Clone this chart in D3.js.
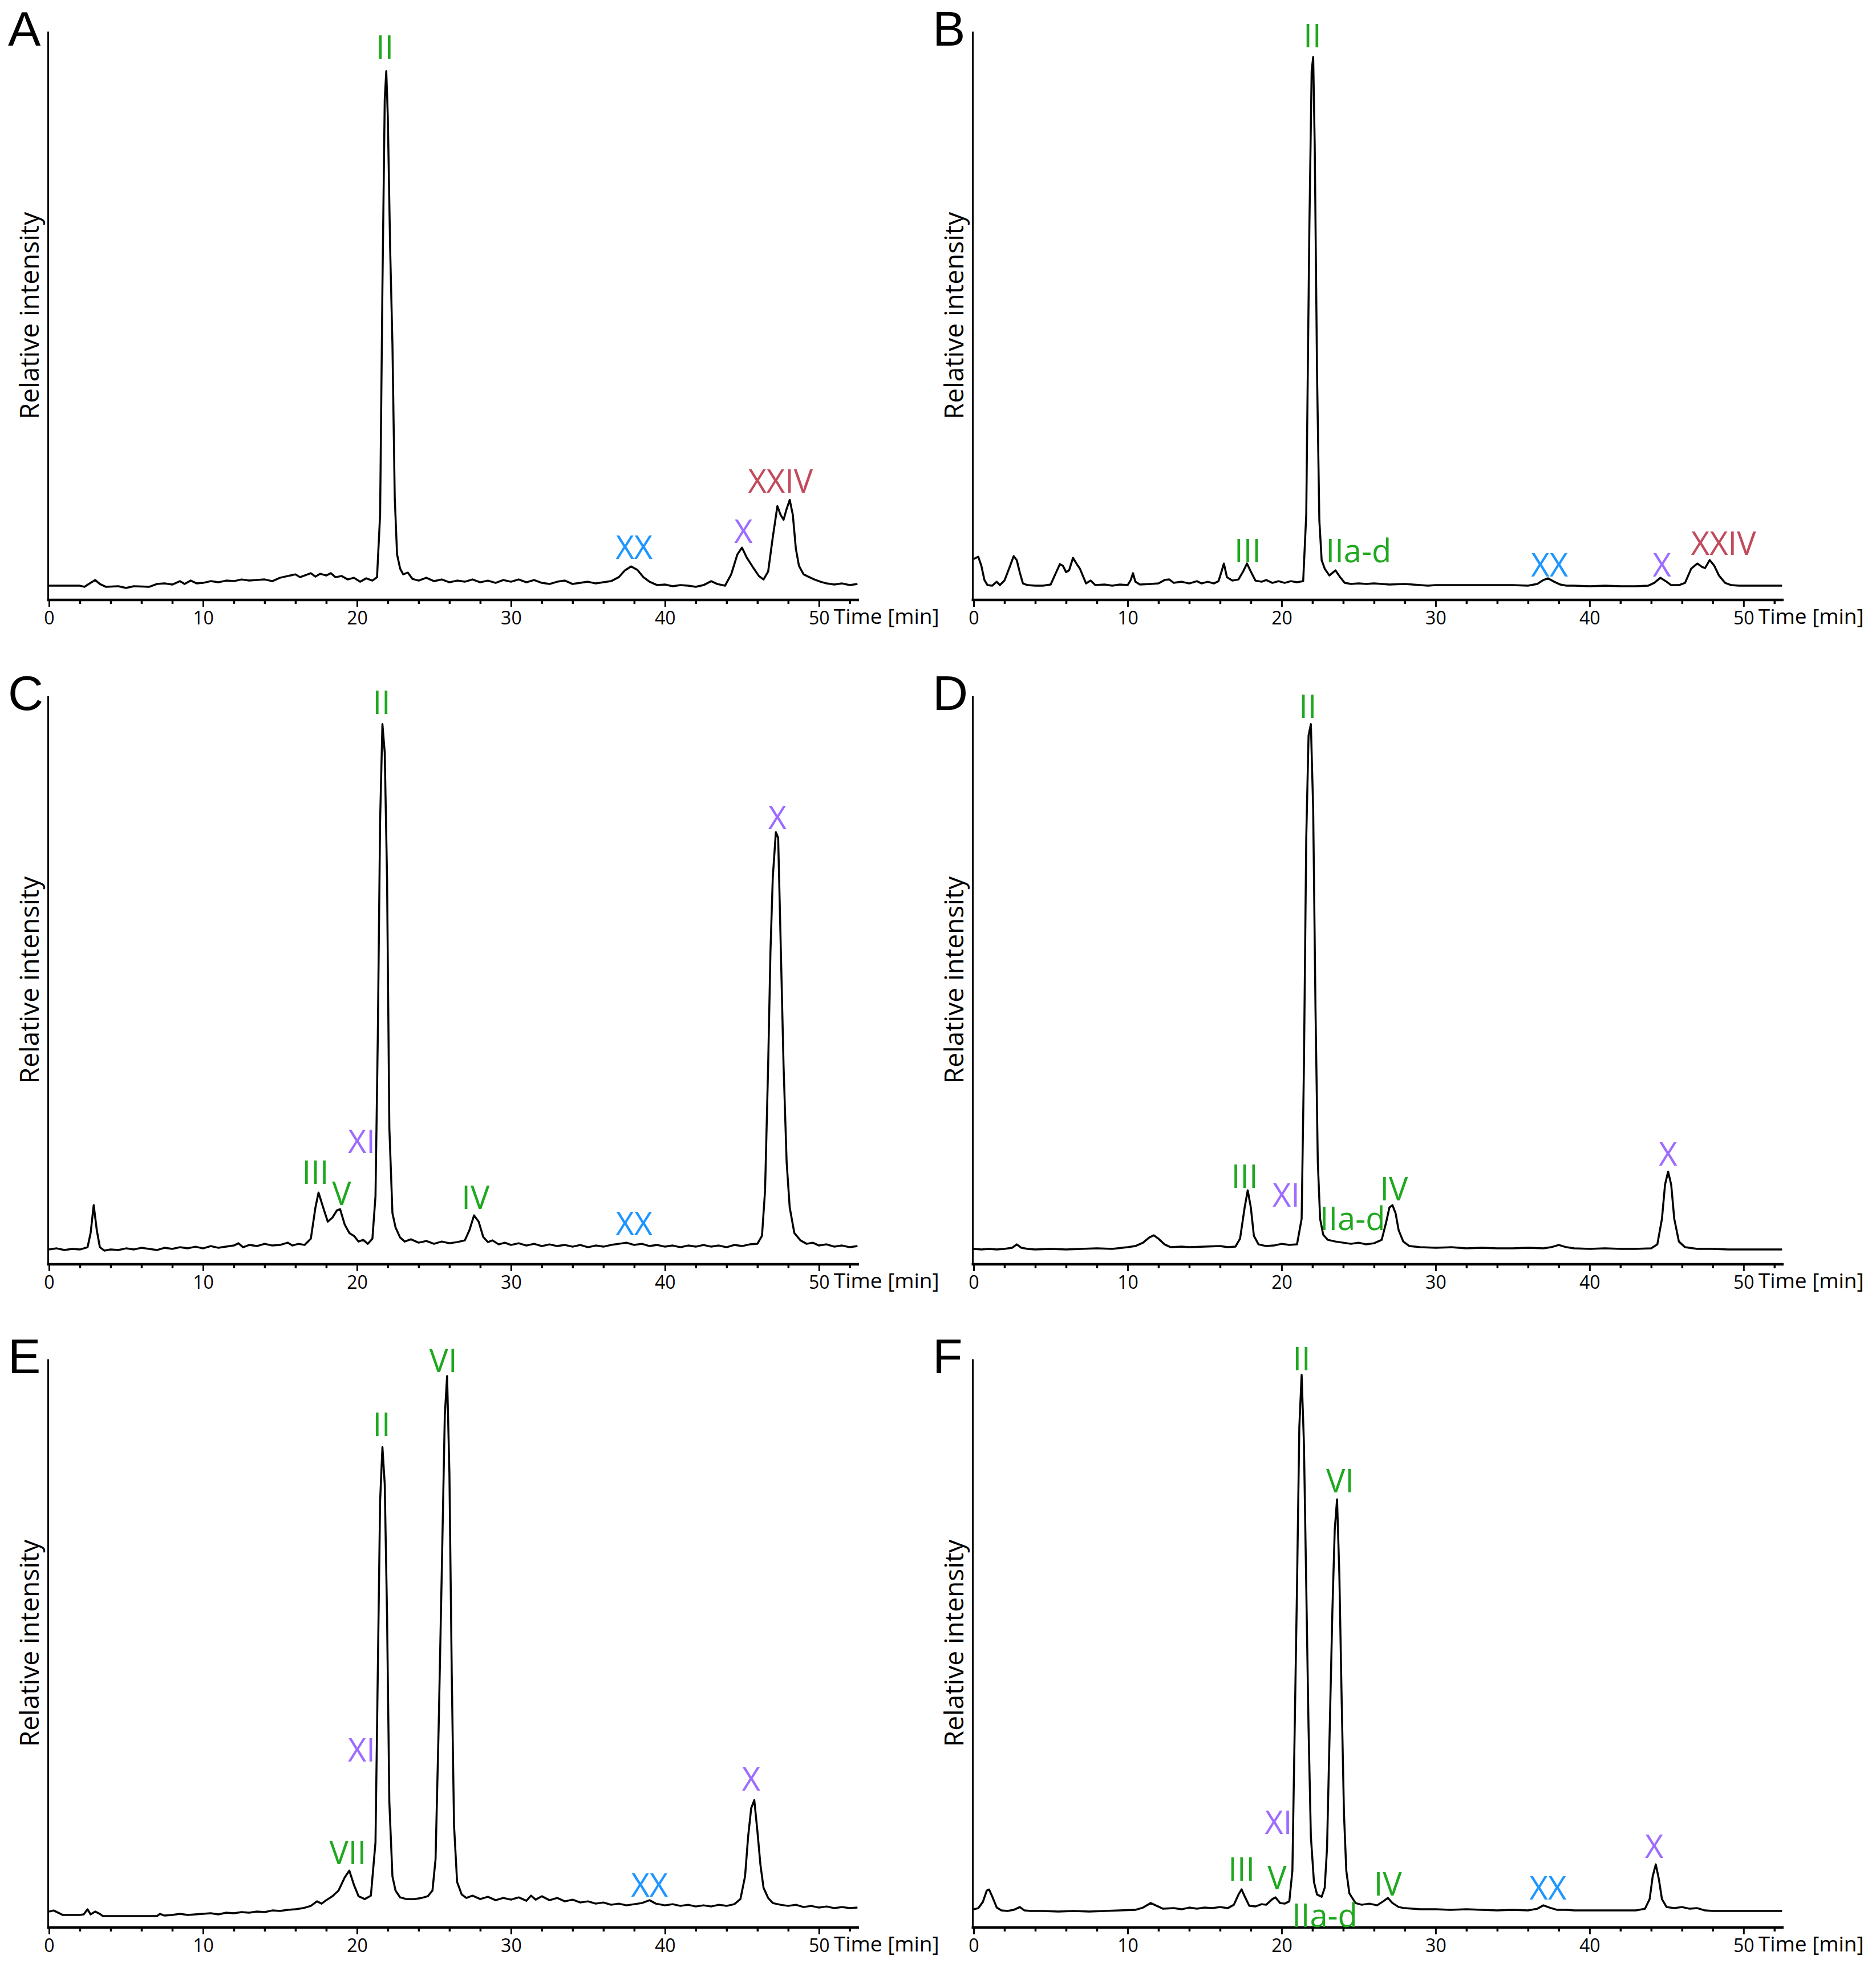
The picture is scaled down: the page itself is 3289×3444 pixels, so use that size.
<!DOCTYPE html>
<html><head><meta charset="utf-8">
<script src="https://cdn.jsdelivr.net/npm/d3@7"></script>
<style>
body{margin:0;background:#fff}
svg{display:block;font-family:"Open Sans",sans-serif}
</style></head>
<body>
<svg id="chart" width="3289" height="3444"></svg>
<script>
// ---------- data ----------
const panelIds = ["A","B","C","D","E","F"];
const majorTicks = [0,10,20,30,40,50];
const minorTicks = [2,4,6,8,12,14,16,18,22,24,26,28,32,34,36,38,42,44,46,48,52];
const xLabel = "Time [min]";
const yLabel = "Relative intensity";
const timeDomain = [0, 52.6];
const intensityDomain = [0, 100];

// chromatogram traces: [time (min), relative intensity]
const traceA = [[0,2.5],[2.0,2.5],[2.3,2.3],[2.7,3.0],[3.0,3.5],[3.3,2.8],[3.7,2.3],[4.5,2.4],[5.0,2.1],[5.5,2.4],[6.5,2.3],[7.0,2.8],[7.5,2.9],[8.0,2.7],[8.5,3.3],[8.8,2.8],[9.2,3.4],[9.6,2.9],[10.0,3.0],[10.5,3.3],[11.0,3.1],[11.5,3.4],[12.0,3.3],[12.5,3.6],[13.0,3.4],[13.5,3.5],[14.0,3.6],[14.5,3.3],[15.0,3.9],[15.5,4.2],[16.0,4.5],[16.3,4.0],[16.7,4.4],[17.0,4.7],[17.3,4.1],[17.6,4.6],[18.0,4.3],[18.3,4.7],[18.6,4.0],[19.0,4.2],[19.4,3.6],[19.8,3.9],[20.2,3.2],[20.6,3.8],[21.0,3.4],[21.3,4.0],[21.5,15],[21.65,55],[21.8,88],[21.9,93],[22.0,85],[22.15,62],[22.3,45],[22.45,18],[22.6,8],[22.8,5.5],[23.0,4.5],[23.3,4.8],[23.6,3.7],[24.0,3.4],[24.5,3.9],[25,3.3],[25.5,3.6],[26,3.1],[26.5,3.4],[27,3.2],[27.5,3.6],[28,3.1],[28.5,3.4],[29,3.0],[29.5,3.5],[30,3.2],[30.5,3.6],[31,3.1],[31.5,3.5],[32,3.0],[32.5,2.8],[33,3.2],[33.5,3.4],[34,2.8],[34.5,3.0],[35,3.2],[35.5,2.9],[36,3.1],[36.5,3.3],[37.0,4.0],[37.4,5.2],[37.8,5.9],[38.2,5.3],[38.6,4.0],[39.0,3.2],[39.5,2.6],[40,2.7],[40.5,2.4],[41,2.6],[41.5,2.5],[42,2.3],[42.5,2.6],[43.0,3.3],[43.4,2.8],[43.9,2.5],[44.3,4.5],[44.7,8.0],[45.0,9.2],[45.3,7.5],[45.7,5.8],[46.1,4.2],[46.4,3.6],[46.7,5.0],[47.0,11],[47.3,16.5],[47.5,15],[47.7,14.1],[47.9,16],[48.1,17.6],[48.3,15],[48.5,9],[48.7,6],[49.0,4.5],[49.3,4.1],[49.7,3.6],[50.1,3.2],[50.5,2.9],[51.0,2.7],[51.5,2.9],[52.0,2.6],[52.5,2.8]];

const traceB = [[0.0,7.2],[0.3,7.6],[0.5,6.0],[0.7,3.5],[0.9,2.6],[1.2,2.5],[1.5,3.2],[1.7,2.6],[2.0,3.4],[2.3,5.5],[2.6,7.7],[2.8,7.0],[3.0,4.8],[3.2,2.9],[3.5,2.6],[4.0,2.5],[4.5,2.5],[5.0,2.7],[5.3,4.5],[5.6,6.3],[5.8,6.0],[6.0,4.9],[6.2,5.2],[6.45,7.4],[6.7,6.3],[6.9,5.5],[7.1,4.2],[7.3,2.9],[7.6,3.4],[7.9,2.6],[8.5,2.7],[9.0,2.5],[9.5,2.7],[10.0,2.6],[10.2,3.5],[10.35,4.7],[10.5,3.2],[10.8,2.7],[11.5,2.8],[12.0,2.9],[12.4,3.5],[12.7,3.6],[13.0,3.0],[13.5,3.2],[14.0,2.9],[14.5,3.3],[14.8,2.9],[15.2,3.2],[15.6,2.9],[15.9,3.3],[16.1,5.0],[16.25,6.4],[16.45,4.0],[16.8,3.4],[17.2,3.6],[17.5,5.0],[17.75,6.4],[18.0,5.0],[18.3,3.4],[18.7,3.2],[19.0,3.5],[19.4,3.0],[19.8,3.3],[20.2,3.0],[20.6,3.3],[21.0,3.1],[21.4,3.3],[21.6,15],[21.8,65],[21.95,93],[22.05,95.5],[22.15,80],[22.3,40],[22.45,14],[22.6,7],[22.8,5.5],[23.1,4.3],[23.5,5.2],[23.8,4.0],[24.1,3.0],[24.5,2.8],[25.0,2.9],[25.5,2.8],[26,2.9],[27,2.7],[28,2.8],[29,2.6],[29.5,2.5],[30,2.6],[31,2.6],[32,2.6],[33,2.6],[34,2.6],[35,2.6],[36,2.5],[36.6,2.8],[37.0,3.5],[37.3,3.8],[37.7,3.2],[38.1,2.7],[38.5,2.5],[39,2.5],[40,2.4],[41,2.5],[42,2.4],[43,2.4],[43.8,2.5],[44.2,3.0],[44.6,3.9],[45.0,3.2],[45.3,2.6],[45.8,2.6],[46.2,3.0],[46.6,5.5],[47.0,6.4],[47.3,5.8],[47.5,5.6],[47.8,7.0],[48.1,6.0],[48.4,4.3],[48.8,3.0],[49.2,2.6],[49.7,2.5],[50.5,2.5],[51.5,2.5],[52.5,2.5]];

const traceC = [[0,2.6],[0.5,2.8],[1.0,2.5],[1.5,2.7],[2.0,2.6],[2.5,3.0],[2.7,5.5],[2.9,10.4],[3.1,6.0],[3.3,3.0],[3.6,2.4],[4.0,2.6],[4.5,2.5],[5.0,2.8],[5.5,2.6],[6.0,2.9],[6.5,2.7],[7.0,2.5],[7.5,2.9],[8.0,2.7],[8.5,3.0],[9.0,2.8],[9.5,3.1],[10,2.8],[10.5,3.2],[11,2.9],[11.5,3.1],[12,3.3],[12.3,3.7],[12.6,3.0],[13,3.4],[13.5,3.2],[14,3.6],[14.5,3.3],[15,3.4],[15.5,3.8],[15.8,3.3],[16.2,3.6],[16.6,3.4],[17.0,4.5],[17.3,10],[17.5,12.6],[17.8,10],[18.1,7.5],[18.4,8.2],[18.7,9.5],[18.9,9.7],[19.2,7.0],[19.5,5.5],[19.8,5.0],[20.1,4.0],[20.4,4.3],[20.7,3.6],[21.0,4.5],[21.2,12],[21.35,40],[21.5,78],[21.65,95],[21.8,90],[21.95,68],[22.1,24],[22.3,9],[22.5,6.5],[22.8,4.7],[23.1,4.0],[23.5,4.4],[24,3.8],[24.5,4.1],[25,3.6],[25.5,4.0],[26,3.7],[26.5,3.9],[27.0,4.2],[27.3,6.0],[27.6,8.6],[27.9,7.5],[28.2,4.8],[28.5,3.9],[28.8,4.2],[29.2,3.5],[29.6,3.8],[30,3.4],[30.5,3.7],[31,3.3],[31.5,3.6],[32,3.2],[32.5,3.5],[33,3.2],[33.5,3.4],[34,3.1],[34.5,3.4],[35,3.0],[35.5,3.3],[36,3.1],[36.5,3.4],[37,3.6],[37.5,3.8],[38,3.4],[38.5,3.6],[39,3.2],[39.5,3.4],[40,3.1],[40.5,3.3],[41,3.0],[41.5,3.3],[42,3.1],[42.5,3.4],[43,3.1],[43.5,3.3],[44,3.0],[44.5,3.4],[45,3.2],[45.5,3.5],[46.0,3.6],[46.3,5.0],[46.5,13],[46.7,35],[46.85,55],[47.0,68],[47.2,76],[47.35,75],[47.5,58],[47.7,35],[47.9,18],[48.1,10],[48.4,5.5],[48.8,4.2],[49.2,3.6],[49.6,3.8],[50,3.3],[50.5,3.5],[51,3.1],[51.5,3.3],[52,3.0],[52.5,3.2]];

const traceD = [[0,2.7],[0.5,2.6],[1,2.7],[1.5,2.6],[2,2.7],[2.5,2.9],[2.8,3.5],[3.1,2.9],[3.5,2.7],[4,2.6],[5,2.7],[6,2.6],[7,2.7],[8,2.8],[9,2.7],[10,3.0],[10.5,3.2],[11,3.8],[11.4,4.7],[11.7,5.1],[12.0,4.5],[12.4,3.5],[12.8,3.0],[13.5,3.1],[14,3.0],[15,3.1],[16,3.2],[16.5,3.0],[17.0,3.1],[17.3,4.5],[17.6,10],[17.8,13.0],[18.0,10],[18.2,5],[18.5,3.5],[19,3.2],[19.5,3.3],[20,3.6],[20.5,3.4],[21.0,3.5],[21.3,8],[21.45,35],[21.6,75],[21.75,93],[21.9,95],[22.05,80],[22.2,45],[22.35,18],[22.5,8],[22.7,5.2],[23.0,4.3],[23.5,4.0],[24.0,3.8],[24.5,3.6],[25.0,3.8],[25.5,3.5],[26.0,3.7],[26.5,4.3],[26.8,7.5],[27.0,10.0],[27.2,10.4],[27.4,9.0],[27.6,6],[27.9,4],[28.3,3.2],[29,3.0],[30,2.9],[31,3.0],[32,2.8],[33,2.9],[34,2.8],[35,2.8],[36,2.9],[37,2.8],[37.5,3.0],[38,3.4],[38.5,3.0],[39,2.8],[40,2.7],[41,2.8],[42,2.7],[43,2.7],[44,2.8],[44.4,3.5],[44.7,8],[44.9,14],[45.1,16.3],[45.3,14],[45.5,8],[45.8,4],[46.2,3.0],[47,2.7],[48,2.7],[49,2.6],[50,2.6],[51,2.6],[52,2.6],[52.5,2.6]];

const traceE = [[0,2.8],[0.3,3.0],[0.6,2.6],[0.9,2.2],[1.5,2.2],[2.0,2.2],[2.25,2.3],[2.5,3.2],[2.7,2.3],[3.0,2.8],[3.3,2.4],[3.5,2.0],[4,2.0],[5,2.0],[6,2.0],[7,2.0],[7.2,2.4],[7.5,2.1],[8,2.2],[8.5,2.4],[9,2.2],[9.5,2.3],[10,2.4],[10.5,2.5],[11,2.3],[11.5,2.6],[12,2.5],[12.5,2.7],[13,2.6],[13.5,2.8],[14,2.7],[14.5,3.0],[15,2.9],[15.5,3.1],[16,3.2],[16.5,3.4],[17.0,3.8],[17.4,4.6],[17.7,4.2],[18.0,4.8],[18.4,5.5],[18.8,6.5],[19.2,8.8],[19.5,10.0],[19.8,7.5],[20.1,5.5],[20.5,5.0],[20.9,5.6],[21.2,15],[21.35,45],[21.5,75],[21.65,84.5],[21.8,78],[21.95,55],[22.1,22],[22.3,9],[22.5,6.5],[22.8,5.3],[23.2,5.0],[23.7,5.0],[24.2,5.2],[24.6,5.5],[24.9,6.5],[25.1,12],[25.3,35],[25.5,62],[25.7,90],[25.85,97],[26.0,80],[26.15,45],[26.3,18],[26.5,8],[26.8,5.8],[27.1,5.2],[27.5,5.6],[28,5.0],[28.5,5.4],[29,4.8],[29.5,5.2],[30,4.9],[30.5,5.3],[31,4.7],[31.3,5.6],[31.6,4.9],[32,5.5],[32.5,4.8],[33,5.2],[33.5,4.6],[34,4.9],[34.5,4.4],[35,4.6],[35.5,4.2],[36,4.4],[36.5,4.0],[37,4.2],[37.5,3.9],[38,4.1],[38.5,4.3],[39,4.8],[39.4,4.2],[40,3.9],[40.5,4.1],[41,3.8],[41.5,4.0],[42,3.7],[42.5,3.9],[43,3.7],[43.5,4.0],[44,3.8],[44.5,4.1],[44.9,5.0],[45.2,9],[45.4,16],[45.6,21],[45.8,22.4],[46.0,17],[46.2,11],[46.4,7],[46.7,5.2],[47,4.3],[47.5,4.0],[48,3.8],[48.5,4.0],[49,3.6],[49.5,3.8],[50,3.5],[50.5,3.7],[51,3.4],[51.5,3.6],[52,3.4],[52.5,3.5]];

const traceF = [[0,3.2],[0.3,3.4],[0.6,4.5],[0.85,6.5],[1.0,6.7],[1.2,5.5],[1.5,3.5],[1.8,3.0],[2.2,2.9],[2.6,3.1],[3.0,3.6],[3.3,3.0],[3.7,2.9],[4.5,2.9],[5.5,2.8],[6.5,2.9],[7.5,2.8],[8.5,2.9],[9.5,3.0],[10.5,3.1],[11.0,3.5],[11.5,4.3],[11.9,3.8],[12.3,3.3],[13,3.4],[13.5,3.2],[14,3.5],[14.5,3.3],[15,3.5],[15.5,3.4],[16,3.6],[16.5,3.4],[16.9,4.0],[17.2,5.8],[17.4,6.7],[17.6,5.5],[17.9,3.8],[18.3,3.7],[18.7,4.1],[19.0,4.0],[19.4,5.0],[19.6,5.3],[19.9,4.3],[20.2,4.2],[20.5,4.6],[20.7,10],[20.85,35],[21.0,60],[21.15,88],[21.3,97.2],[21.45,85],[21.6,60],[21.75,35],[21.9,16],[22.1,8],[22.3,5.8],[22.6,5.4],[22.8,7],[22.95,14],[23.1,32],[23.3,56],[23.45,70],[23.6,75.3],[23.75,62],[23.9,40],[24.05,20],[24.2,10],[24.4,6],[24.8,4.3],[25.2,4.0],[25.7,4.2],[26.2,3.9],[26.6,4.6],[26.9,5.2],[27.2,4.3],[27.6,3.6],[28,3.4],[29,3.2],[30,3.2],[31,3.1],[32,3.2],[33,3.1],[34,3.0],[35,3.1],[36,3.0],[36.6,3.3],[37.0,3.9],[37.4,3.5],[37.9,3.1],[38.5,3.1],[39,3.0],[40,3.0],[41,3.0],[42,3.0],[43,3.0],[43.6,3.3],[43.9,5],[44.1,9],[44.3,11.1],[44.5,8.5],[44.7,5],[45.0,3.6],[45.5,3.4],[46,3.6],[46.5,3.3],[47,3.4],[47.5,3.0],[48,2.9],[49,2.9],[50,2.9],[51,2.9],[52,2.9],[52.5,2.9]];

// peak annotations: [label, time, intensity of text baseline, compound group]
const peaksA = [["II",21.8,95.2,"g"],["XX",38.0,7.2,"b"],["X",45.1,10.0,"p"],["XXIV",47.5,18.9,"r"]];
const peaksB = [["II",22.0,97.2,"g"],["III",17.8,6.6,"g"],["IIa-d",25.0,6.6,"g"],["XX",37.4,4.1,"b"],["X",44.7,4.1,"p"],["XXIV",48.7,7.9,"r"]];
const peaksC = [["II",21.6,96.8,"g"],["XI",20.3,19.6,"p"],["III",17.3,14.1,"g"],["V",19.0,10.4,"g"],["IV",27.7,9.7,"g"],["XX",38.0,5.1,"b"],["X",47.3,76.5,"p"]];
const peaksD = [["II",21.7,96.1,"g"],["III",17.6,13.4,"g"],["XI",20.3,10.1,"p"],["IIa-d",24.6,6.0,"g"],["IV",27.3,11.2,"g"],["X",45.1,17.4,"p"]];
const peaksE = [["VI",25.6,97.7,"g"],["II",21.6,86.5,"g"],["XI",20.3,29.2,"p"],["VII",19.4,11.1,"g"],["XX",39.0,5.4,"b"],["X",45.6,24.1,"p"]];
const peaksF = [["II",21.3,98.0,"g"],["VI",23.8,76.5,"g"],["XI",19.8,16.4,"p"],["III",17.4,8.2,"g"],["V",19.7,6.7,"g"],["IIa-d",22.8,0.1,"g"],["IV",26.9,5.6,"g"],["XX",37.3,4.9,"b"],["X",44.2,12.2,"p"]];

const groups = ["g","b","p","r"];
const groupColors = ["#1fa81f","#1e96ff","#9d6cff","#c24a5c"];

const traces = [traceA,traceB,traceC,traceD,traceE,traceF];
const peaks = [peaksA,peaksB,peaksC,peaksD,peaksE,peaksF];

// ---------- layout ----------
const colX = [86, 1707];        // pixel of t = 0
const rowAxisY = [1052, 2217, 3380];
const plotW = 1420;
const plotH = 997;

const color = d3.scaleOrdinal().domain(groups).range(groupColors);
const svg = d3.select("#chart");
svg.append("rect").attr("width",3289).attr("height",3444).attr("fill","#fff");

panelIds.forEach((id, i) => {
  const col = i % 2, row = Math.floor(i / 2);
  const x0 = colX[col], yB = rowAxisY[row];
  const x = d3.scaleLinear().domain(timeDomain).range([x0, x0 + plotW]);
  const y = d3.scaleLinear().domain(intensityDomain).range([yB, yB - plotH]);
  const g = svg.append("g");

  // y axis line (no ticks)
  const yAxis = d3.axisLeft(y).tickValues([]).tickSizeOuter(0);
  g.append("g").attr("transform", `translate(${x(0) - 2},0)`).call(yAxis)
    .call(s => s.select(".domain").attr("stroke","#000").attr("stroke-width",3));

  // x axis: minor ticks
  const xMinor = d3.axisBottom(x).tickValues(minorTicks).tickSize(7).tickFormat("").tickSizeOuter(0);
  g.append("g").attr("transform", `translate(0,${yB})`).call(xMinor)
    .call(s => { s.select(".domain").remove(); s.selectAll(".tick line").attr("stroke","#000").attr("stroke-width",3.5); });
  // x axis: major ticks with labels
  const xMajor = d3.axisBottom(x).tickValues(majorTicks).tickSize(12).tickPadding(8).tickSizeOuter(0).tickFormat(d3.format("d"));
  g.append("g").attr("transform", `translate(0,${yB})`).call(xMajor)
    .call(s => {
      s.select(".domain").attr("stroke","#000").attr("stroke-width",4.5)
        .attr("d", `M${x(0) - 3.5},0H${x(timeDomain[1])}`);
      s.selectAll(".tick line").attr("stroke","#000").attr("stroke-width",3);
      s.selectAll(".tick text").attr("fill","#000").attr("font-size",32).attr("font-family","'Open Sans',sans-serif");
    });

  // axis titles
  g.append("text").attr("x", x(50) + 26).attr("y", yB + 42)
    .attr("font-size",37).attr("fill","#000").text(xLabel);
  g.append("text")
    .attr("transform", `translate(${x(0) - 18},${y(50)}) rotate(-90)`)
    .attr("text-anchor","middle").attr("font-size",46).attr("fill","#000").text(yLabel);

  // panel letter
  g.append("text").attr("x", x(0) - 72).attr("y", y(100) + 25)
    .attr("font-family","'Liberation Sans',Arial,sans-serif")
    .attr("font-size",86).attr("fill","#000").text(id);

  // trace
  const line = d3.line().x(d => x(d[0])).y(d => y(d[1]));
  g.append("path").datum(traces[i]).attr("d", line)
    .attr("fill","none").attr("stroke","#000").attr("stroke-width",3.5).attr("stroke-linejoin","round");

  // peak labels
  g.selectAll(".pk").data(peaks[i]).join("text").attr("class","pk")
    .attr("x", d => x(d[1])).attr("y", d => y(d[2]))
    .attr("text-anchor","middle").attr("font-size",56)
    .attr("fill", d => color(d[3])).text(d => d[0]);
});
</script>
</body></html>
